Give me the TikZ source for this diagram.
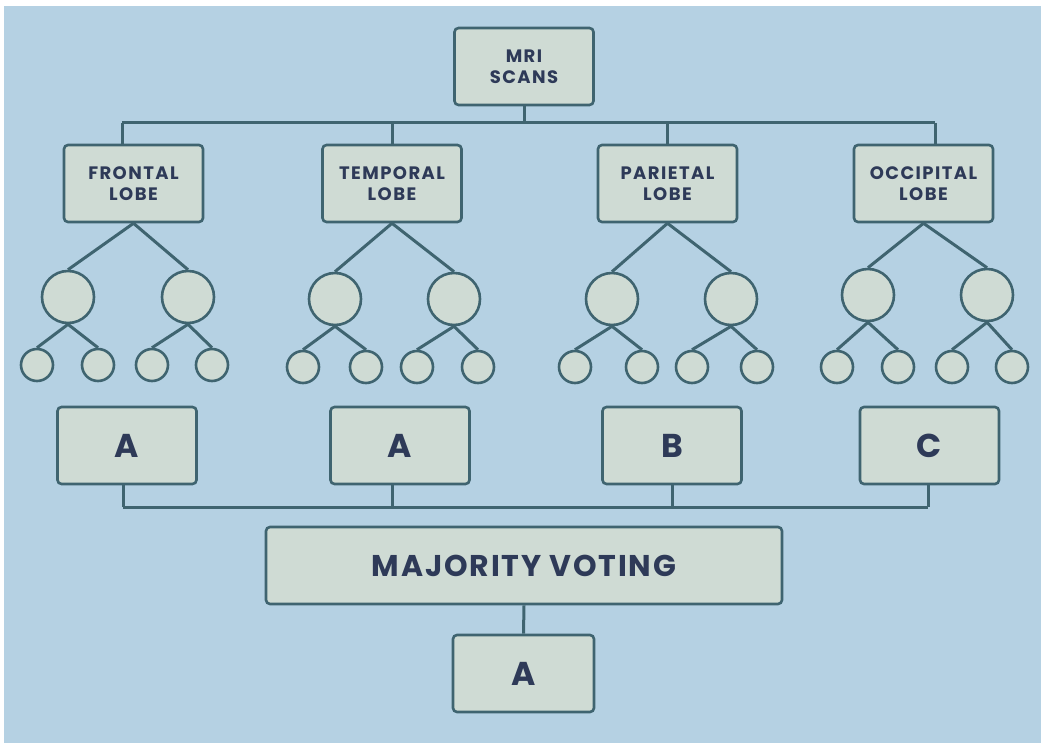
\documentclass[tikz,border=0pt]{standalone}
\usepackage{fontspec}
\setmainfont{Poppins}
\definecolor{bg}{HTML}{B5D1E3}
\definecolor{boxfill}{HTML}{CFDBD4}
\definecolor{edge}{HTML}{3F6470}
\definecolor{ink}{HTML}{2E3A58}
\tikzset{
  box/.style={draw=edge, line width=2.6pt, fill=boxfill, rounded corners=4pt,
    inner sep=0pt, text=ink, align=center, minimum height=77pt},
  lobebox/.style={box, minimum width=139pt, font=\bfseries\fontsize{18}{21.5}\selectfont\addfontfeature{LetterSpace=8}},
  resbox/.style={box, minimum width=139pt, font=\bfseries\fontsize{33}{36}\selectfont},
  bigc/.style={circle, draw=edge, line width=2.6pt, fill=boxfill, minimum size=52pt, inner sep=0pt},
  smallc/.style={circle, draw=edge, line width=2.6pt, fill=boxfill, minimum size=32pt, inner sep=0pt},
  conn/.style={draw=edge, line width=3pt},
}
\begin{document}
\begin{tikzpicture}[x=1pt,y=-1pt]
\useasboundingbox (0,0) rectangle (1041,743);
\fill[white] (0,0) rectangle (1041,743);
\fill[bg] (4,6) rectangle (1041,743);

% top
\node[lobebox] (mri) at (524,66.5) {MRI\\SCANS};
\node[lobebox] (fro) at (133.5,183.5) {FRONTAL\\LOBE};
\node[lobebox] (tem) at (392,183.5) {TEMPORAL\\LOBE};
\node[lobebox] (par) at (667.5,183.5) {PARIETAL\\LOBE};
\node[lobebox] (occ) at (923.5,183.5) {OCCIPITAL\\LOBE};

\coordinate (busL) at (122,123);
\coordinate (busR) at (935,123);
\draw[conn] (busL) -- (busR);
\draw[conn] (mri.south) -- (mri.south |- busL);
\draw[conn] (busL) -- (busL |- fro.north);
\draw[conn] (tem.north) -- (tem.north |- busL);
\draw[conn] (par.north) -- (par.north |- busL);
\draw[conn] (busR) -- (busR |- occ.north);

% trees
\foreach \n/\bl/\br/\by/\sa/\sb/\sc/\sd/\sy in {
  fro/68/188/297/37/98/152/212/365,
  tem/335/454/299/303/366/417/478/367,
  par/612/731/299/575/642/692/757/367,
  occ/868/987/295/837/898/952/1012/367}{
  \node[bigc] (\n bl) at (\bl,\by) {};
  \node[bigc] (\n br) at (\br,\by) {};
  \node[smallc] (\n s1) at (\sa,\sy) {};
  \node[smallc] (\n s2) at (\sb,\sy) {};
  \node[smallc] (\n s3) at (\sc,\sy) {};
  \node[smallc] (\n s4) at (\sd,\sy) {};
  \draw[conn] (\n.south) -- (\n bl.north);
  \draw[conn] (\n.south) -- (\n br.north);
  \draw[conn] (\n bl.south) -- (\n s1.north);
  \draw[conn] (\n bl.south) -- (\n s2.north);
  \draw[conn] (\n br.south) -- (\n s3.north);
  \draw[conn] (\n br.south) -- (\n s4.north);
}

% results
\node[resbox] (r1) at (127,445.5) {A};
\node[resbox] (r2) at (400,445.5) {A};
\node[resbox] (r3) at (672,445.5) {B};
\node[resbox] (r4) at (929.5,445.5) {C};

\coordinate (lbL) at (123,507);
\coordinate (lbR) at (928,507);
\coordinate (lb2) at (392,507);
\draw[conn] (lbL) -- (lbR);
\draw[conn] (lbL) -- (lbL |- r1.south);
\draw[conn] (lb2) -- (lb2 |- r2.south);
\draw[conn] (r3.south) -- (r3.south |- lbL);
\draw[conn] (lbR) -- (lbR |- r4.south);

\node[box, minimum width=516pt, font=\bfseries\fontsize{30}{33}\selectfont\addfontfeature{LetterSpace=6}] (vote) at (524,565.5) {MAJORITY VOTING};
\node[resbox, minimum width=141pt] (final) at (523.5,673.5) {A};
\draw[conn] (vote.south) -- (final.north);
\end{tikzpicture}
\end{document}
